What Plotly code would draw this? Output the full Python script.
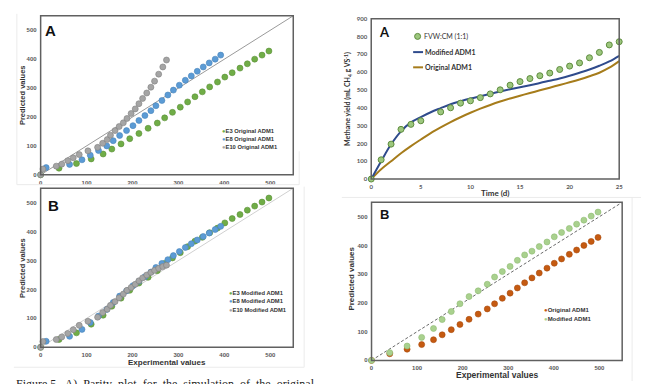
import plotly.graph_objects as go

W, H = 645, 384
def px(x): return x / W
def py(y): return 1 - y / H

# ---------------- data ----------------
e3_exp = [0, 40, 78, 110, 136, 155, 175, 194, 214, 234, 254, 270, 287, 304, 320, 336, 352, 368, 385, 401, 417, 434, 450, 466, 482, 497]
e3_orig = [0, 23, 39, 55, 72, 89, 107, 125, 143, 161, 179, 197, 216, 234, 252, 270, 287, 304, 321, 338, 353, 369, 384, 400, 414, 428]
e3_mod = [0, 27, 50, 80, 111, 142, 170, 197, 222, 242, 265, 290, 309, 327, 348, 367, 380, 396, 412, 430, 445, 459, 474, 488, 502, 516]

e8_exp = [12, 63, 90, 108, 126, 144, 158, 172, 187, 201, 214, 227, 240, 251, 264, 277, 289, 302, 315, 328, 341, 354, 367, 380, 392]
e8_orig = [25, 36, 52, 68, 84, 100, 118, 136, 153, 170, 188, 205, 222, 239, 257, 276, 293, 310, 327, 342, 358, 373, 387, 400, 414]
e8_mod = [21, 38, 62, 86, 108, 131, 155, 177, 195, 213, 228, 244, 260, 276, 290, 303, 317, 331, 345, 358, 371, 383, 395, 407, 418]

e10_exp = [0, 5, 34, 46, 59, 71, 84, 103, 124, 135, 145, 152, 162, 171, 180, 188, 197, 206, 214, 222, 231, 240, 248, 257, 266, 274]
e10_orig = [0, 20, 30, 37, 49, 59, 70, 83, 95, 109, 122, 137, 153, 167, 180, 195, 212, 228, 246, 264, 283, 303, 324, 348, 373, 397]
e10_mod = [0, 20, 27, 36, 48, 61, 76, 90, 104, 120, 132, 145, 158, 171, 184, 197, 207, 218, 230, 240, 250, 259, 266, 273, 279, 284]

parity = [0, 550]

meas_days = [0, 1, 2, 3, 4, 5, 7, 8, 9, 10, 11, 12, 13, 14, 15, 16, 17, 18, 19, 20, 21, 22, 23, 24, 25]
meas_yield = [0, 108, 196, 279, 307, 327, 377, 400, 426, 439, 457, 478, 501, 527, 547, 564, 580, 595, 615, 634, 652, 681, 711, 753, 771]
sim_days = list(range(26))
mod_sim = [0, 100, 195, 268, 318, 348, 375, 398, 420, 437, 452, 465, 478, 492, 504, 515, 527, 539, 552, 565, 580, 597, 615, 636, 660, 692]
orig_sim = [0, 55, 100, 145, 185, 222, 258, 290, 320, 347, 372, 395, 416, 435, 452, 468, 483, 498, 513, 528, 543, 559, 577, 597, 625, 662]

parity_ticks = [0, 100, 200, 300, 400, 500]
time_ticks = [0, 5, 10, 15, 20, 25]
yield_ticks = [0, 100, 200, 300, 400, 500, 600, 700, 800, 900]

GREEN = "#70AD47"
BLUE = "#5B9BD5"
GREY = "#A5A5A5"
BROWN = "#C55A11"
LGREEN = "#A9D18E"
NAVY = "#2F4B8C"
GOLD = "#A67C1B"

fig = go.Figure()

def sc(x, y, color, line, ax, size=6):
    return go.Scatter(x=x, y=y, mode="markers", xaxis="x" + ax, yaxis="y" + ax,
                      marker=dict(size=size, color=color, line=dict(color=line, width=0.6)),
                      cliponaxis=False, showlegend=False)

# Panel A (top-left)
fig.add_trace(go.Scatter(x=parity, y=parity, mode="lines", line=dict(color="#9a9a9a", width=1),
                         xaxis="x", yaxis="y", showlegend=False))
fig.add_trace(sc(e3_exp, e3_orig, GREEN, "#5a8f37", ""))
fig.add_trace(sc(e8_exp, e8_orig, BLUE, "#4a84bb", ""))
fig.add_trace(sc(e10_exp, e10_orig, GREY, "#7f7f7f", ""))

# Panel B (bottom-left)
fig.add_trace(go.Scatter(x=parity, y=parity, mode="lines", line=dict(color="#d0d0d0", width=1),
                         xaxis="x2", yaxis="y2", showlegend=False))
fig.add_trace(sc(e3_exp, e3_mod, GREEN, "#5a8f37", "2"))
fig.add_trace(sc(e8_exp, e8_mod, BLUE, "#4a84bb", "2"))
fig.add_trace(sc(e10_exp, e10_mod, GREY, "#7f7f7f", "2"))

# Panel A (top-right) kinetics
fig.add_trace(go.Scatter(x=sim_days, y=orig_sim, mode="lines", line=dict(color=GOLD, width=2, shape="spline"),
                         xaxis="x3", yaxis="y3", showlegend=False))
fig.add_trace(go.Scatter(x=sim_days, y=mod_sim, mode="lines", line=dict(color=NAVY, width=2, shape="spline"),
                         xaxis="x3", yaxis="y3", showlegend=False))
fig.add_trace(go.Scatter(x=meas_days, y=meas_yield, mode="markers", xaxis="x3", yaxis="y3",
                         marker=dict(size=6, color="#9DC77E", line=dict(color="#5E8C3E", width=1)),
                         cliponaxis=False, showlegend=False))

# Panel B (bottom-right)
fig.add_trace(go.Scatter(x=parity, y=parity, mode="lines", line=dict(color="#6a6a6a", width=1, dash="3px,2px"),
                         xaxis="x4", yaxis="y4", showlegend=False))
fig.add_trace(sc(e3_exp, e3_orig, BROWN, "#a84a0c", "4"))
fig.add_trace(sc(e3_exp, e3_mod, LGREEN, "#8fbb72", "4"))

tickfont = dict(family="Liberation Sans", size=6, color="#595959")
tickfont_c = dict(family="Lato", size=6, color="#595959")

def axis(domain, rng, ticks, anchor, font=tickfont):
    return dict(domain=domain, range=rng, tickvals=ticks, ticks="", showgrid=False, zeroline=False,
                showline=False, anchor=anchor,
                tickfont=dict(font, weight="bold"), ticklabelstandoff=3, fixedrange=True)

fig.update_layout(
    width=W, height=H, margin=dict(l=0, r=0, t=0, b=0),
    paper_bgcolor="white", plot_bgcolor="white", showlegend=False,
    xaxis=axis([px(39), px(294)], [0, 550], parity_ticks, "y"),
    yaxis=axis([py(174), py(12)], [0, 550], parity_ticks, "x"),
    xaxis2=axis([px(39), px(294)], [0, 550], parity_ticks, "y2"),
    yaxis2=axis([py(349.7), py(187.6)], [0, 550], parity_ticks, "x2"),
    xaxis3=axis([px(372.7), px(623)], [0, 25], time_ticks, "y3", tickfont_c),
    yaxis3=axis([py(178.3), py(15)], [0, 900], yield_ticks, "x3", tickfont_c),
    xaxis4=axis([px(373), px(626)], [0, 550], parity_ticks, "y4"),
    yaxis4=axis([py(363), py(202)], [0, 550], parity_ticks, "x4"),
)

ann = []
def text(x, y, t, size, family="Liberation Sans", bold=True, color="#333333", angle=0, xanchor="center", yanchor="middle"):
    ann.append(dict(x=px(x), y=py(y), xref="paper", yref="paper", text=t, showarrow=False,
                    textangle=angle, xanchor=xanchor, yanchor=yanchor,
                    font=dict(family=family, size=size, color=color, weight="bold" if bold else "normal")))

# panel letters
text(49, 27, "A", 15, color="#111111")
text(52, 205, "B", 15, color="#111111")
text(386, 29, "A", 13, family="Lato", color="#111111")
text(386, 214, "B", 13, color="#111111")

# axis titles
text(20, 93, "Predicted values", 7.5, angle=-90)
text(20, 269, "Predicted values", 7.5, angle=-90)
text(167, 365, "Experimental values", 8)
text(349, 97, "Methane yield (mL CH<sub>4</sub> g VS<sup>-1</sup>)", 7, family="Lato", angle=-90)
text(498, 192, "Time (d)", 8, family="Lato")
text(353, 280, "Predicted values", 8, angle=-90)
text(500, 378, "Experimental values", 8.5)

# legends (left panels)
def leg(x, y, color, label, size=5.5):
    text(x, y, "<span style='color:%s'>●</span>%s" % (color, label), size, xanchor="left")

leg(220, 129, GREEN, "E3 Original ADM1", 5.8)
leg(220, 137.5, BLUE, "E8 Original ADM1", 5.8)
leg(220, 146, GREY, "E10 Original ADM1", 5.8)
leg(227, 294, GREEN, "E3 Modified ADM1", 5.8)
leg(227, 303, BLUE, "E8 Modified ADM1", 5.8)
leg(227, 312, GREY, "E10 Modified ADM1", 5.8)
leg(545, 312, BROWN, "Original ADM1", 6)
leg(545, 321, LGREEN, "Modified ADM1", 6)

# right-top legend
text(424, 33, "FVW:CM (1:1)", 7, family="Lato", bold=False, xanchor="left")
text(425, 49, "Modified ADM1", 7, family="Lato", xanchor="left")
text(425, 64.5, "Original ADM1", 7, family="Lato", xanchor="left")

# caption (cut off at the bottom)
ann.append(dict(x=px(12), y=py(378), xref="paper", yref="paper", xanchor="left", yanchor="top",
                text="Figure 5.  A)  Parity  plot  for  the  simulation  of  the  original", showarrow=False,
                font=dict(family="Liberation Serif", size=12, color="#222222")))

fig.update_layout(annotations=ann)

shapes = []
# plot frames
for ax in ["", "2", "3", "4"]:
    shapes.append(dict(type="rect", xref="x%s domain" % ax, yref="y%s domain" % ax,
                       x0=0, x1=1, y0=0, y1=1, line=dict(color="#606060", width=1.5), layer="above"))
shapes += [
    dict(type="line", xref="paper", yref="paper", x0=px(415), x1=px(425), y0=py(49), y1=py(49),
         line=dict(color=NAVY, width=2)),
    dict(type="line", xref="paper", yref="paper", x0=px(415), x1=px(425), y0=py(64.5), y1=py(64.5),
         line=dict(color=GOLD, width=2)),
    dict(type="circle", xref="paper", yref="paper", xsizemode="pixel", ysizemode="pixel",
         xanchor=px(419.5), yanchor=py(33), x0=-3, x1=3, y0=-3, y1=3,
         fillcolor="#9DC77E", line=dict(color="#5E8C3E", width=1)),
]
# faint outer frames of the original images
frame = dict(color="#ebebeb", width=1)
for (x0, y0, x1, y1) in [(15, 10, 15, 184), (15, 184, 300, 184), (300, 150, 300, 184),
                         (12, 370, 305, 370), (305, 186, 305, 370),
                         (343, 197, 645, 197), (636, 197, 636, 384)]:
    shapes.append(dict(type="line", xref="paper", yref="paper", x0=px(x0), x1=px(x1), y0=py(y0), y1=py(y1), line=frame))
fig.update_layout(shapes=shapes)

fig.write_html("out.html", config={"displayModeBar": False},
               post_script="document.body.style.margin='0';document.body.style.padding='0';")
